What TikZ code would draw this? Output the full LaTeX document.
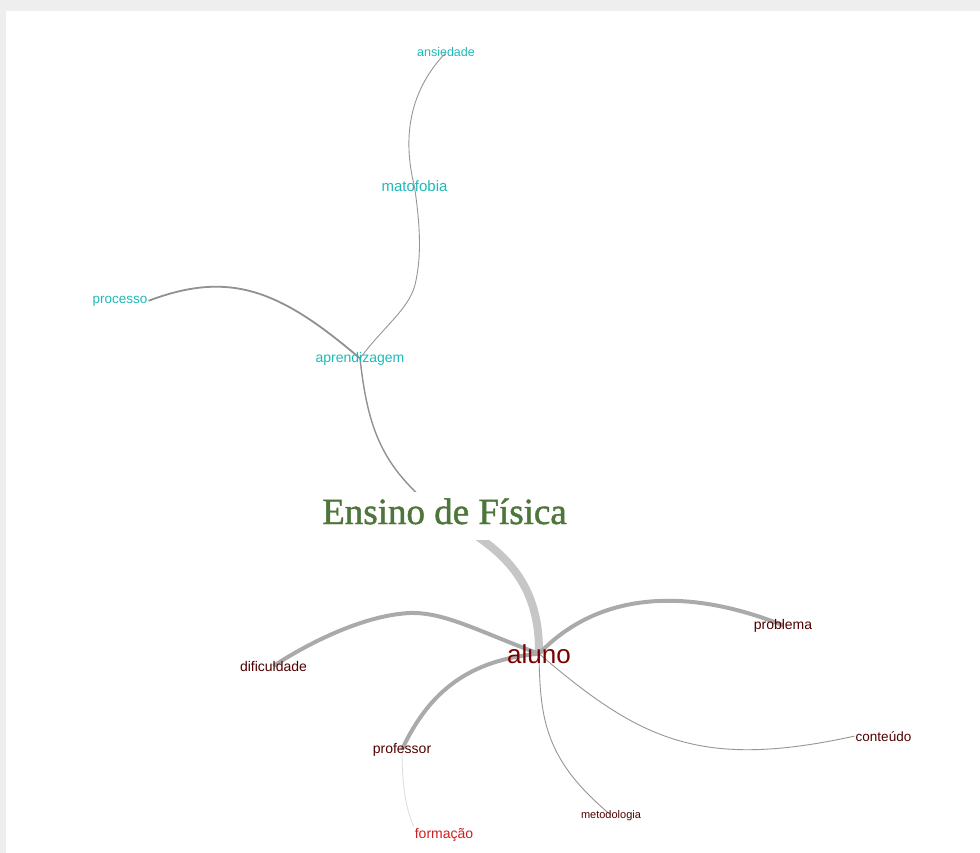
\documentclass[tikz,border=0pt]{standalone}
\usepackage{fontspec}
\setmainfont{Liberation Sans}
\newfontfamily\ensfont[FakeBold=1.2]{Liberation Serif}
\pgfdeclarelayer{frame}
\pgfdeclarelayer{background}
\pgfsetlayers{frame,background,main}
\definecolor{cyanlbl}{RGB}{30,186,186}
\definecolor{alunored}{RGB}{122,0,0}
\definecolor{darklbl}{RGB}{80,0,0}
\definecolor{redlbl}{RGB}{204,32,32}
\definecolor{ensgreen}{RGB}{78,118,58}
\definecolor{framegray}{RGB}{238,238,238}
\tikzset{
  lbl/.style={anchor=base, inner sep=1pt, font=\fontsize{#1}{#1}\selectfont},
  thinedge/.style={draw={rgb,255:red,150;green,150;blue,150}, line width=0.9pt},
  midedge/.style={draw={rgb,255:red,145;green,145;blue,145}, line width=1.8pt},
  thickedge/.style={draw={rgb,255:red,170;green,170;blue,170}, line width=4pt},
  heavyedge/.style={draw={rgb,255:red,198;green,198;blue,198}, line width=8pt},
  faintedge/.style={draw={rgb,255:red,220;green,220;blue,220}, line width=0.8pt},
}
\begin{document}
\begin{tikzpicture}[x=1pt,y=-1pt]
\useasboundingbox (0,0) rectangle (980,853);
\begin{pgfonlayer}{frame}
\fill[framegray] (0,0) rectangle (980,853);
\fill[white] (6,11) rectangle (980,853);
\end{pgfonlayer}

% nodes
\node[lbl=12.5, text=cyanlbl] (ansiedade) at (446,57) {ansiedade};
\node[lbl=15, text=cyanlbl] (matofobia) at (414.5,192) {matofobia};
\node[lbl=13.5, text=cyanlbl] (processo) at (120,303) {processo};
\node[lbl=14, text=cyanlbl] (aprendizagem) at (360,362) {aprendizagem};
\node[anchor=base, fill=white, inner xsep=3pt, inner ysep=6pt, text=ensgreen,
      font=\ensfont\fontsize{37}{37}\selectfont] (ensino) at (444.5,524) {\rule[-10pt]{0pt}{10pt}Ensino de Física};
\node[lbl=26, text=alunored] (aluno) at (539,663) {aluno};
\node[lbl=14, text=darklbl] (dificuldade) at (273.5,671) {dificuldade};
\node[lbl=14, text=darklbl] (problema) at (783,629) {problema};
\node[lbl=14, text=darklbl] (professor) at (402,753) {professor};
\node[lbl=13.5, text=darklbl] (conteudo) at (883.5,741) {conteúdo};
\node[lbl=11, text=darklbl] (metodologia) at (611,818) {metodologia};
\node[lbl=14, text=redlbl] (formacao) at (444,838) {formação};

% edges
\begin{pgfonlayer}{background}
\draw[thinedge] (ansiedade.center) .. controls (405,95) and (404,145) .. (matofobia.center);
\draw[thinedge] (matofobia.center) .. controls (420,225) and (422,255) .. (415,285)
                .. controls (408,310) and (385,325) .. (aprendizagem.center);
\draw[midedge] (processo.east) .. controls (230,270) and (280,290) .. (aprendizagem.center);
\draw[midedge, line width=1.4pt] (aprendizagem.center) .. controls (368,430) and (382,470) .. (ensino.center);
\draw[heavyedge] (ensino.center) .. controls (495,545) and (540,575) .. (aluno.center);
\draw[thickedge] (aluno.center) .. controls (480,632) and (445,612) .. (410,613)
                 .. controls (365,615) and (310,642) .. (dificuldade.center);
\draw[thickedge] (aluno.center) .. controls (600,590) and (690,588) .. (problema.center);
\draw[thickedge] (aluno.center) .. controls (470,660) and (430,690) .. (professor.center);
\draw[thinedge] (aluno.center) .. controls (640,740) and (700,770) .. (conteudo.west);
\draw[thinedge] (aluno.center) .. controls (540,720) and (545,760) .. (metodologia.center);
\draw[faintedge] (professor.center) .. controls (402,795) and (408,812) .. (formacao.north west);
\end{pgfonlayer}
\end{tikzpicture}
\end{document}
